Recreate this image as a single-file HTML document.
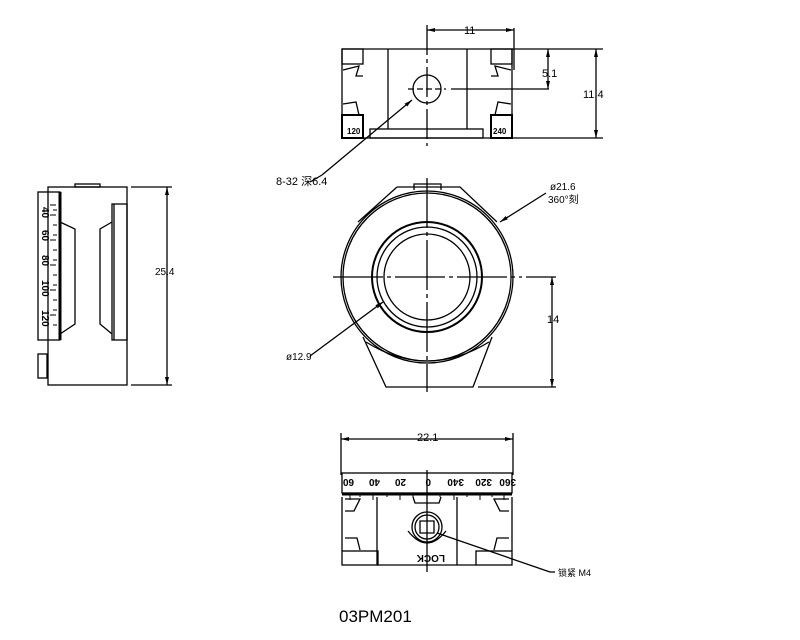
<!DOCTYPE html>
<html><head><meta charset="utf-8"><style>
html,body{margin:0;padding:0;background:#fff;}
svg{display:block;}
text{font-family:"Liberation Sans","Noto Sans CJK SC",sans-serif;fill:#000;}
</style></head><body>
<svg width="800" height="640" viewBox="0 0 800 640" xmlns="http://www.w3.org/2000/svg">
<defs>
<marker id="a" markerWidth="8" markerHeight="6" refX="8" refY="3" orient="auto-start-reverse" markerUnits="userSpaceOnUse"><path d="M0,1 L8,3 L0,5 Z" fill="#000"/></marker>
</defs>
<g fill="none" stroke="#000" stroke-width="1.3">
<!-- TOP VIEW -->
<line x1="342" y1="49" x2="603" y2="49"/>
<line x1="342" y1="138" x2="603" y2="138"/>
<line x1="342" y1="49" x2="342" y2="138"/>
<line x1="512" y1="49" x2="512" y2="138"/>
<line x1="388" y1="49" x2="388" y2="129"/>
<line x1="467" y1="49" x2="467" y2="129"/>
<rect x="370" y="129" width="113" height="9"/>
<rect x="342" y="49" width="21" height="15"/><rect x="491" y="49" width="21" height="15"/>
<path d="M343,70 L359,66 L356,76 L363,76 M343,104 L356,102 L359,115 L343,115"/>
<path d="M511,70 L495,66 L498,76 L491,76 M511,104 L498,102 L495,115 L511,115"/>
<rect x="342" y="115" width="21" height="23" stroke-width="2"/>
<rect x="491" y="115" width="21" height="23" stroke-width="2"/>
<circle cx="427" cy="89" r="14"/>
<line x1="427" y1="25" x2="427" y2="146" stroke-dasharray="30,4,4,4"/>
<line x1="408" y1="89" x2="446" y2="89" stroke-dasharray="6,3"/>
<line x1="451" y1="89" x2="549" y2="89"/>
<line x1="514" y1="28" x2="514" y2="70"/>
<line x1="427" y1="30" x2="514" y2="30" marker-start="url(#a)" marker-end="url(#a)"/>
<line x1="548" y1="49" x2="548" y2="89" marker-start="url(#a)" marker-end="url(#a)"/>
<line x1="596" y1="49" x2="596" y2="138" marker-start="url(#a)" marker-end="url(#a)"/>
<line x1="412" y1="100" x2="322" y2="175" marker-start="url(#a)"/>
<line x1="322" y1="175" x2="310" y2="182"/>
<!-- LEFT VIEW -->
<rect x="48" y="187" width="79" height="198"/>
<rect x="38" y="192" width="22" height="148"/>
<line x1="60" y1="192" x2="60" y2="340" stroke-width="3"/>
<rect x="38" y="354" width="9" height="24"/>
<rect x="75" y="184" width="25" height="3"/>
<rect x="112" y="204" width="15" height="136"/>
<line x1="114" y1="204" x2="114" y2="340"/>
<path d="M60,222 L75,229 L75,324 L60,334"/>
<path d="M112,222 L100,229 L100,324 L112,334"/>
<line x1="131" y1="187" x2="172" y2="187"/>
<line x1="131" y1="385" x2="172" y2="385"/>
<line x1="167" y1="187" x2="167" y2="385" marker-start="url(#a)" marker-end="url(#a)"/>
<!-- FRONT VIEW -->
<circle cx="427" cy="277" r="86"/>
<circle cx="427" cy="277" r="84"/>
<circle cx="427" cy="277" r="55" stroke-width="2"/>
<circle cx="427" cy="277" r="50"/>
<circle cx="427" cy="277" r="43"/>
<path d="M397,187 L460,187 L497,222 M397,187 L358,222"/>
<path d="M414,190 L414,184 L441,184 L441,190"/>
<path d="M363,337 L386,387 L473,387 L492,337"/>
<path d="M366,342 Q427,380 489,342"/>
<line x1="427" y1="178" x2="427" y2="392" stroke-dasharray="50,4,4,4"/>
<line x1="333" y1="277" x2="522" y2="277" stroke-dasharray="50,4,4,4"/>
<line x1="526" y1="277" x2="556" y2="277"/>
<line x1="478" y1="387" x2="556" y2="387"/>
<line x1="552" y1="277" x2="552" y2="387" marker-start="url(#a)" marker-end="url(#a)"/>
<line x1="500" y1="222" x2="546" y2="193" marker-start="url(#a)"/>
<line x1="383" y1="302" x2="310" y2="356" marker-start="url(#a)"/>
<!-- BOTTOM VIEW -->
<line x1="341" y1="433" x2="341" y2="475"/>
<line x1="513" y1="433" x2="513" y2="475"/>
<line x1="341" y1="439" x2="513" y2="439" marker-start="url(#a)" marker-end="url(#a)"/>
<rect x="342" y="473" width="170" height="20"/>
<line x1="342" y1="494" x2="512" y2="494" stroke-width="3"/>
<path d="M342,497 L342,551 M512,497 L512,551"/>
<path d="M345,499 L360,499 L354,511 L345,511 M509,499 L494,499 L500,511 L509,511"/>
<path d="M345,538 L357,538 L360,550 M509,538 L497,538 L494,550"/>
<rect x="342" y="551" width="36" height="14"/><rect x="476" y="551" width="36" height="14"/>
<line x1="377" y1="497" x2="377" y2="565"/><line x1="457" y1="497" x2="457" y2="565"/>
<line x1="377" y1="565" x2="476" y2="565"/>
<path d="M413,497 L415,503 L439,503 L441,497"/>
<circle cx="427" cy="527" r="15"/>
<circle cx="427" cy="527" r="12"/>
<path d="M420,521 L434,521 L434,533 L420,533 Z"/>
<path d="M408,531 Q427,555 446,531"/>
<line x1="427" y1="470" x2="427" y2="572"/>
<line x1="437" y1="533" x2="550" y2="572"/>
<line x1="550" y1="572" x2="555" y2="572"/>
</g>
<g stroke="#000" stroke-width="1">
<path d="M50,205 h6 M50,215 h6 M50,240 h6 M50,265 h6 M50,290 h6 M50,315 h6 M53,210 h4 M53,225 h4 M53,235 h4 M53,250 h4 M53,260 h4 M53,275 h4 M53,285 h4 M53,300 h4 M53,310 h4 M53,325 h4"/>
<path d="M350,494 v6 M373,494 v6 M400,494 v6 M427,494 v6 M454,494 v6 M480,494 v6 M504,494 v6 M360,494 v3 M387,494 v3 M413,494 v3 M440,494 v3 M467,494 v3 M492,494 v3"/>
</g>
<g font-size="11">
<text x="464" y="34">11</text>
<text x="542" y="77">5.1</text>
<text x="583" y="98">11.4</text>
<text x="276" y="185">8-32 深6.4</text>
<text x="550" y="190" font-size="10">ø21.6</text>
<text x="548" y="203" font-size="10">360°刻</text>
<text x="155" y="275" font-size="10">25.4</text>
<text x="547" y="323">14</text>
<text x="286" y="360" font-size="10">ø12.9</text>
<text x="417" y="441">22.1</text>
<text x="558" y="576" font-size="9">锁紧 M4</text>
<text x="347" y="134" font-size="8" font-weight="bold" fill="#fff">120</text>
<text x="493" y="134" font-size="8" font-weight="bold" fill="#fff">240</text>
</g>
<g font-size="10" font-weight="bold">
<text transform="translate(42,207) rotate(90)">40</text>
<text transform="translate(42,230) rotate(90)">60</text>
<text transform="translate(42,255) rotate(90)">80</text>
<text transform="translate(42,280) rotate(90)">100</text>
<text transform="translate(42,310) rotate(90)">120</text>
<g transform="rotate(180,427,483)">
<text x="338" y="487">360</text><text x="362" y="487">320</text><text x="390" y="487">340</text>
<text x="423" y="487">0</text><text x="448" y="487">20</text><text x="474" y="487">40</text><text x="500" y="487">60</text>
</g>
<text transform="translate(445,555) rotate(180)" font-size="10">LOCK</text>
</g>
<text x="339" y="622" font-size="17">03PM201</text>
</svg>
</body></html>
